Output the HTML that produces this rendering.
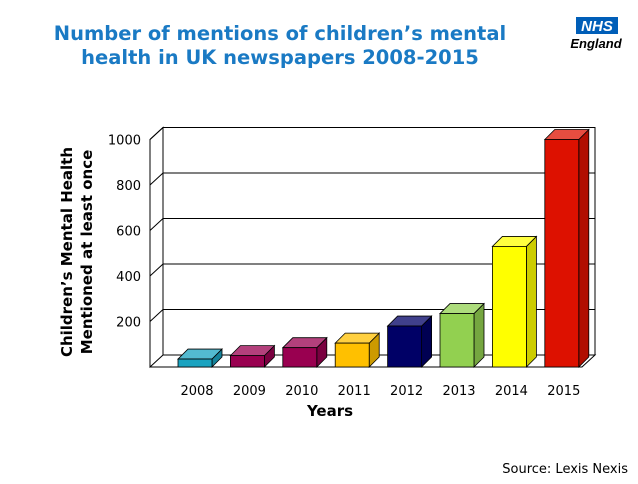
<!DOCTYPE html>
<html><head><meta charset="utf-8"><style>
body{margin:0;background:#fff;width:638px;height:479px;overflow:hidden;font-family:"Liberation Sans","DejaVu Sans",sans-serif}
</style></head><body>
<svg width="638" height="479" viewBox="0 0 638 479" xmlns="http://www.w3.org/2000/svg" font-family="DejaVu Sans, Liberation Sans, sans-serif">
<text x="280" y="40" text-anchor="middle" font-size="19.5" font-weight="bold" fill="#1a7ac4">Number of mentions of children’s mental</text>
<text x="280" y="64" text-anchor="middle" font-size="19.5" font-weight="bold" fill="#1a7ac4">health in UK newspapers 2008-2015</text>
<g>
<rect x="576" y="17" width="42" height="17" fill="#005eb8"/>
<text x="597" y="31" text-anchor="middle" font-size="15" font-weight="bold" font-style="italic" fill="#fff" font-family="Liberation Sans, sans-serif">NHS</text>
<text x="596" y="48" text-anchor="middle" font-size="13" font-weight="bold" font-style="italic" fill="#000" font-family="Liberation Sans, sans-serif">England</text>
</g>
<g id="plot"></g>
<text x="330" y="416" text-anchor="middle" font-size="15" font-weight="bold">Years</text>
<text transform="translate(72,252) rotate(-90)" text-anchor="middle" font-size="15" font-weight="bold">Children’s Mental Health</text>
<text transform="translate(92,252) rotate(-90)" text-anchor="middle" font-size="15" font-weight="bold">Mentioned at least once</text>
<text x="628" y="473" text-anchor="end" font-size="13">Source: Lexis Nexis</text>
</svg>
<script>
const categories=["2008","2009","2010","2011","2012","2013","2014","2015"];
const values=[35,50,85,105,180,235,530,1000];
const colors=["#1aa3c0","#990050","#990050","#ffc000","#000066","#92d050","#ffff00","#dd1100"];
const yTicks=[200,400,600,800,1000];
const NS="http://www.w3.org/2000/svg";
const g=document.getElementById('plot');
const x0=150,y0=367,dx=13,dy=12,plotW=432,scale=0.2275;
function yS(v){return y0-v*scale;}
function xC(i){return 195+i*52.4;}
function shade(hex,f){let n=parseInt(hex.slice(1),16);let r=n>>16,gg=(n>>8)&255,b=n&255;
 const m=c=>Math.max(0,Math.min(255,Math.round(f>1?c+(255-c)*(f-1):c*f)));return `rgb(${m(r)},${m(gg)},${m(b)})`;}
function mk(tag,attrs){const e=document.createElementNS(NS,tag);for(const k in attrs)e.setAttribute(k,attrs[k]);g.appendChild(e);return e;}
// walls
let w=mk('path',{d:`M${x0},${y0} L${x0+dx},${y0-dy} L${x0+dx},${yS(1000)-dy} L${x0},${yS(1000)} Z M${x0+dx},${yS(1000)-dy} L${x0+dx+plotW},${yS(1000)-dy} L${x0+dx+plotW},${y0-dy}`,fill:'none',stroke:'#000','stroke-width':1});


let fl=mk('path',{d:`M${x0},${y0} L${x0+plotW},${y0} L${x0+dx+plotW},${y0-dy} L${x0+dx},${y0-dy}`,fill:'none',stroke:'#000','stroke-width':1});


yTicks.forEach(t=>{
 const y=yS(t);
 const l=mk('path',{d:`M${x0},${y} L${x0+dx},${y-dy} L${x0+dx+plotW},${y-dy}`,fill:'none',stroke:'#000','stroke-width':1});
 
 
 const tx=mk('text',{x:x0-9,y:y+5,'text-anchor':'end','font-size':13});
 tx.textContent=t;
 
 
});
const bw=34,bd=10;
categories.forEach((c,i)=>{
 const cx=xC(i),x=cx-bw/2,top=yS(values[i]),col=colors[i];
 const grp=document.createElementNS(NS,'g');g.appendChild(grp);
 
 
 const add=(tag,a)=>{const e=document.createElementNS(NS,tag);for(const k in a)e.setAttribute(k,a[k]);grp.appendChild(e);};
 add('polygon',{points:`${x+bw},${y0} ${x+bw+bd},${y0-bd} ${x+bw+bd},${top-bd} ${x+bw},${top}`,fill:shade(col,0.8),stroke:'#000','stroke-width':0.8});
 add('polygon',{points:`${x},${top} ${x+bd},${top-bd} ${x+bw+bd},${top-bd} ${x+bw},${top}`,fill:shade(col,1.25),stroke:'#000','stroke-width':0.8});
 add('rect',{x:x,y:top,width:bw,height:y0-top,fill:col,stroke:'#000','stroke-width':0.8});
 const t=mk('text',{x:cx+2,y:395,'text-anchor':'middle','font-size':13});
 t.textContent=c;
 
 
});
</script>
</body></html>
